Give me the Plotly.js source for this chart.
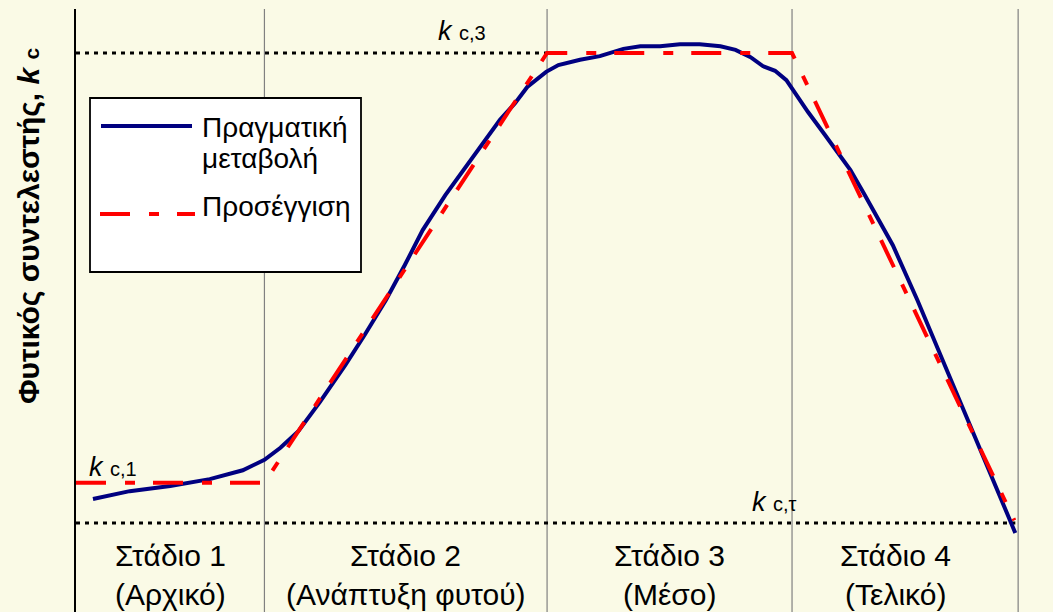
<!DOCTYPE html>
<html>
<head>
<meta charset="utf-8">
<script src="https://cdn.plot.ly/plotly-3.0.1.min.js"></script>
<style>html,body{margin:0;padding:0;background:#fafae6;}#chart{width:1053px;height:612px;}</style>
</head>
<body>
<div id="chart"></div>
<script>
// ---- data ----
var actualX = [1.8, 5.7, 10.0, 14.2, 17.7, 20.0, 21.7, 23.6, 25.9, 28.6, 30.7, 32.9, 34.9, 36.8, 39.2, 41.5, 43.4, 45.0, 46.6, 47.9, 49.9, 51.2, 53.5, 55.6, 58.1, 59.9, 62.0, 64.1, 66.2, 68.4, 70.0, 71.6, 72.9, 74.2, 75.4, 76.1, 77.7, 79.5, 82.2, 83.6, 85.1, 86.7, 89.3, 92.8, 96.0, 98.1, 99.7];
var actualY = [0.346, 0.361, 0.371, 0.384, 0.401, 0.421, 0.444, 0.476, 0.532, 0.603, 0.662, 0.727, 0.794, 0.861, 0.928, 0.986, 1.033, 1.072, 1.104, 1.135, 1.164, 1.177, 1.187, 1.194, 1.208, 1.213, 1.213, 1.217, 1.217, 1.213, 1.206, 1.192, 1.175, 1.166, 1.148, 1.129, 1.087, 1.043, 0.976, 0.932, 0.884, 0.832, 0.727, 0.576, 0.440, 0.350, 0.281];
var approxX = [0, 20, 50, 76, 99.6];
var approxY = [0.377, 0.377, 1.2, 1.2, 0.305];
var kc1 = 0.377, kc3 = 1.2, kcT = 0.3;
var stageBounds = [0, 20, 50, 76, 100];
var stageCenters = [10, 35, 63, 87];
var stageNames = ['Στάδιο 1', 'Στάδιο 2', 'Στάδιο 3', 'Στάδιο 4'];
var stageDesc = ['(Αρχικό)', '(Ανάπτυξη φυτού)', '(Μέσο)', '(Τελικό)'];
var seriesNames = ['Πραγματική<br>μεταβολή', 'Προσέγγιση'];

// ---- layout helpers (pixel -> paper) ----
var W = 1053, H = 612, ML = 76, MR = 0, MT = 9, MB = 0;
var PW = W - ML - MR, PH = H - MT - MB;
function px(x) { return (x - ML) / PW; }
function py(y) { return (H - MB - y) / PH; }

var FONT = 'Liberation Sans, Arial, sans-serif';

var traces = [
  { x: actualX, y: actualY, mode: 'lines', name: seriesNames[0],
    line: { color: '#000080', width: 4 }, showlegend: false, hoverinfo: 'skip' },
  { x: approxX, y: approxY, mode: 'lines', name: seriesNames[1],
    line: { color: '#ff0000', width: 4, dash: '30px,19px,10px,18px' }, showlegend: false, hoverinfo: 'skip' }
];

var shapes = [];
for (var i = 1; i < stageBounds.length; i++) {
  shapes.push({ type: 'line', xref: 'x', yref: 'paper', x0: stageBounds[i], x1: stageBounds[i], y0: 0, y1: 1,
    line: { color: '#808080', width: 1.2 }, layer: 'below' });
}
shapes.push({ type: 'line', xref: 'x', yref: 'y', x0: stageBounds[0], x1: stageBounds[2], y0: kc3, y1: kc3,
  line: { color: '#000', width: 3, dash: '4px,5px' }, layer: 'below' });
shapes.push({ type: 'line', xref: 'x', yref: 'y', x0: stageBounds[0], x1: 99.7, y0: kcT, y1: kcT,
  line: { color: '#000', width: 3, dash: '4px,5px' }, layer: 'below' });
shapes.push({ type: 'rect', xref: 'paper', yref: 'paper', x0: px(90), x1: px(361), y0: py(272), y1: py(98),
  fillcolor: '#ffffff', line: { color: '#000', width: 1.8 }, layer: 'above' });
shapes.push({ type: 'line', xref: 'paper', yref: 'paper', x0: px(101), x1: px(192), y0: py(126), y1: py(126),
  line: { color: '#000080', width: 4 }, layer: 'above' });
shapes.push({ type: 'line', xref: 'paper', yref: 'paper', x0: px(100), x1: px(195), y0: py(214), y1: py(214),
  line: { color: '#ff0000', width: 4, dash: '30px,19px,10px,18px' }, layer: 'above' });

var legendLines = seriesNames[0].split('<br>');
var LF = { family: FONT, size: 28, color: '#000' };
var annotations = [
  { xref: 'paper', yref: 'paper', x: px(200), y: py(127), xanchor: 'left', yanchor: 'middle', showarrow: false,
    text: legendLines[0], font: LF },
  { xref: 'paper', yref: 'paper', x: px(200), y: py(158), xanchor: 'left', yanchor: 'middle', showarrow: false,
    text: legendLines[1], font: LF },
  { xref: 'paper', yref: 'paper', x: px(200), y: py(207), xanchor: 'left', yanchor: 'middle', showarrow: false,
    text: seriesNames[1], font: LF },
  { xref: 'paper', yref: 'paper', x: px(462), y: py(31), xanchor: 'center', yanchor: 'middle', showarrow: false,
    text: '<i>k</i> <span style="font-size:20px">c,3</span>', font: { family: FONT, size: 27, color: '#000' } },
  { xref: 'paper', yref: 'paper', x: px(113), y: py(467), xanchor: 'center', yanchor: 'middle', showarrow: false,
    text: '<i>k</i> <span style="font-size:20px">c,1</span>', font: { family: FONT, size: 27, color: '#000' } },
  { xref: 'paper', yref: 'paper', x: px(774), y: py(502), xanchor: 'center', yanchor: 'middle', showarrow: false,
    text: '<i>k</i> <span style="font-size:20px">c,τ</span>', font: { family: FONT, size: 27, color: '#000' } },
  { xref: 'paper', yref: 'paper', x: px(28), y: py(226), xanchor: 'center', yanchor: 'middle', showarrow: false,
    textangle: -90,
    text: '<b>Φυτικός συντελεστής, <i>k</i> <span style="font-size:21px">c</span></b>',
    font: { family: FONT, size: 30, color: '#000' } }
];
var SF = { family: FONT, size: 30, color: '#000' };
for (var s = 0; s < stageNames.length; s++) {
  annotations.push({ xref: 'x', yref: 'paper', x: stageCenters[s], y: py(555), xanchor: 'center', yanchor: 'middle',
    showarrow: false, text: stageNames[s], font: SF });
  annotations.push({ xref: 'x', yref: 'paper', x: stageCenters[s], y: py(594), xanchor: 'center', yanchor: 'middle',
    showarrow: false, text: stageDesc[s], font: SF });
}

var layout = {
  width: W, height: H,
  margin: { l: ML, r: MR, t: MT, b: MB, pad: 0 },
  paper_bgcolor: '#fafae6', plot_bgcolor: '#fafae6',
  showlegend: false,
  xaxis: { range: [0, 103.7], showgrid: false, zeroline: false, showticklabels: false, ticks: '', showline: false, fixedrange: true },
  yaxis: { range: [0.1296, 1.2843], showgrid: false, zeroline: false, showticklabels: false, ticks: '',
    showline: true, linecolor: '#000', linewidth: 2, fixedrange: true },
  shapes: shapes,
  annotations: annotations
};

Plotly.newPlot('chart', traces, layout, { displayModeBar: false, staticPlot: true });
</script>
</body>
</html>
